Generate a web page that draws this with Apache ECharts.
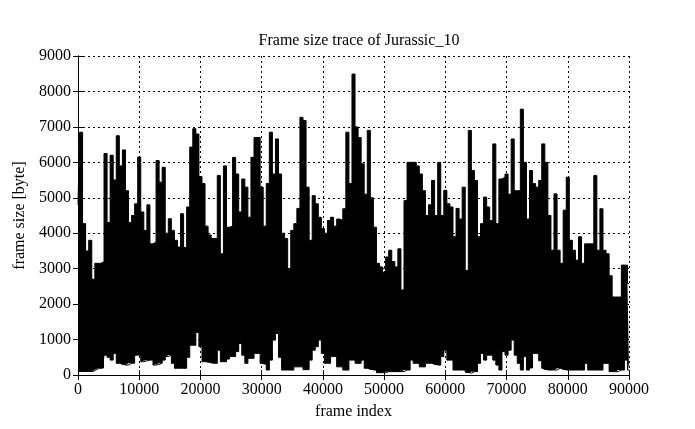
<!DOCTYPE html>
<html>
<head>
<meta charset="utf-8">
<script src="https://cdn.jsdelivr.net/npm/echarts@6/dist/echarts.min.js"></script>
<style>html,body{margin:0;padding:0;background:#fff}#c{width:695px;height:429px}</style>
</head>
<body>
<div id="c"></div>
<script>
// Trace summarised per 500-frame bin: upper and lower envelope of frame size (bytes)
const binStep = 500;
const upperEnvelope = [
  4800,6850,4270,3500,3800,2700,3150,3150,3200,6250,
  4300,6200,5500,6750,5900,6350,5200,4300,4500,4830,
  6150,4600,4080,4800,3700,3750,6050,5440,5860,4000,
  4410,4080,3800,3610,4550,3600,4740,6430,6950,6800,
  5600,5400,4200,3950,3850,3850,5630,3420,5900,4170,
  4200,6140,5670,4600,5530,5300,4450,6140,6700,6700,
  5300,4200,5400,6850,5670,6660,5670,4000,3850,3000,
  4080,4270,4700,7270,7180,5300,3800,5060,4830,4450,
  4130,4000,4360,4450,4200,4400,4360,4690,6850,5400,
  8490,7000,6700,5960,5100,6900,5000,4170,3150,3050,
  2900,3330,3520,3200,3050,3560,2400,4920,6000,6000,
  6000,5900,5670,5200,4500,4800,5490,4500,6000,4500,
  5210,4830,4740,3900,4700,4400,5300,2950,6900,5770,
  5490,3900,4270,5020,4740,4360,6520,4270,5530,5580,
  5670,5100,6660,5200,5200,7500,6000,4400,5770,5400,
  5300,5490,6520,6000,4500,3520,5110,3520,3150,4650,
  5580,3800,3520,3240,3900,3150,3700,3700,3700,5630,
  3520,4690,3520,3420,2800,2200,2200,2200,3100,3100,
  2580
];
const lowerEnvelope = [
  100,100,100,100,100,100,150,190,190,560,
  500,420,610,330,330,280,280,330,330,560,
  560,375,400,420,420,280,300,330,420,520,
  560,330,190,190,190,190,500,840,840,1200,
  800,375,375,350,330,330,700,375,375,450,
  520,520,660,890,560,330,470,470,610,610,
  330,300,140,420,985,1170,500,140,140,140,
  140,230,230,230,150,150,420,700,800,985,
  610,330,330,520,520,230,230,140,140,420,
  420,330,330,420,190,190,140,140,65,65,
  65,95,95,95,95,95,95,140,140,420,
  330,330,230,230,330,330,330,280,280,520,
  700,420,420,140,140,140,140,80,50,95,
  95,330,610,420,560,560,420,280,140,660,
  560,700,985,560,330,140,520,140,200,610,
  610,400,190,140,140,140,140,190,190,140,
  140,140,140,140,140,140,330,140,140,140,
  140,140,330,330,95,95,95,140,140,420,
  140
];
const xTicks = {min: 0, max: 90000, interval: 10000};
const yTicks = {min: 0, max: 9000, interval: 1000};

// items are [value, frame] so that the stacked dimension is the frame size
const lowerData = lowerEnvelope.map((v, i) => [v, i * binStep]);
const bandData = upperEnvelope.map((v, i) => [v - lowerEnvelope[i], i * binStep]);

const font = 'Liberation Serif';
const fs = 16;
const gridLine = {show: true, lineStyle: {color: '#000', width: 1, type: [2, 3]}};
const axisLine = {show: true, lineStyle: {color: '#000', width: 1}};
const tick = {show: true, inside: true, length: 5, lineStyle: {color: '#000'}};
const plain = v => String(v);

const chart = echarts.init(document.getElementById('c'), null, {renderer: 'canvas'});
chart.setOption({
  animation: false,
  backgroundColor: '#fff',
  title: {
    text: 'Frame size trace of Jurassic_10',
    left: 354, top: 28, textAlign: 'center',
    textStyle: {fontFamily: font, fontSize: fs, fontWeight: 'normal', color: '#000'}
  },
  grid: {left: 78, right: 66, top: 56, bottom: 54},
  xAxis: [{
    type: 'value', position: 'bottom', min: xTicks.min, max: xTicks.max, interval: xTicks.interval,
    name: 'frame index', nameLocation: 'middle', nameGap: 29,
    nameTextStyle: {fontFamily: font, fontSize: fs, color: '#000'},
    axisLine: axisLine, axisTick: tick, splitLine: gridLine,
    axisLabel: {fontFamily: font, fontSize: fs, color: '#000', margin: 7, formatter: plain}
  }, {
    type: 'value', position: 'top', min: xTicks.min, max: xTicks.max, interval: xTicks.interval,
    axisLine: axisLine, axisTick: tick, splitLine: {show: false}, axisLabel: {show: false}
  }],
  yAxis: [{
    type: 'value', position: 'left', min: yTicks.min, max: yTicks.max, interval: yTicks.interval,
    name: 'frame size [byte]', nameLocation: 'middle', nameGap: 50, nameRotate: 90,
    nameTextStyle: {fontFamily: font, fontSize: fs, color: '#000'},
    axisLine: axisLine, axisTick: tick, splitLine: gridLine,
    axisLabel: {fontFamily: font, fontSize: fs, color: '#000', margin: 7, formatter: plain}
  }, {
    type: 'value', position: 'right', min: yTicks.min, max: yTicks.max, interval: yTicks.interval,
    axisLine: axisLine, axisTick: tick, splitLine: {show: false}, axisLabel: {show: false}
  }],
  series: [{
    name: 'lower', type: 'line', stack: 'env', data: lowerData, encode: {x: 1, y: 0},
    step: 'middle', symbol: 'none', lineStyle: {color: '#000', width: 1}, silent: true, z: 3
  }, {
    name: 'frame size', type: 'line', stack: 'env', data: bandData, encode: {x: 1, y: 0},
    step: 'middle', symbol: 'none', lineStyle: {color: '#000', width: 1},
    areaStyle: {color: '#000', opacity: 1}, silent: true, z: 3
  }]
});
</script>
</body>
</html>
